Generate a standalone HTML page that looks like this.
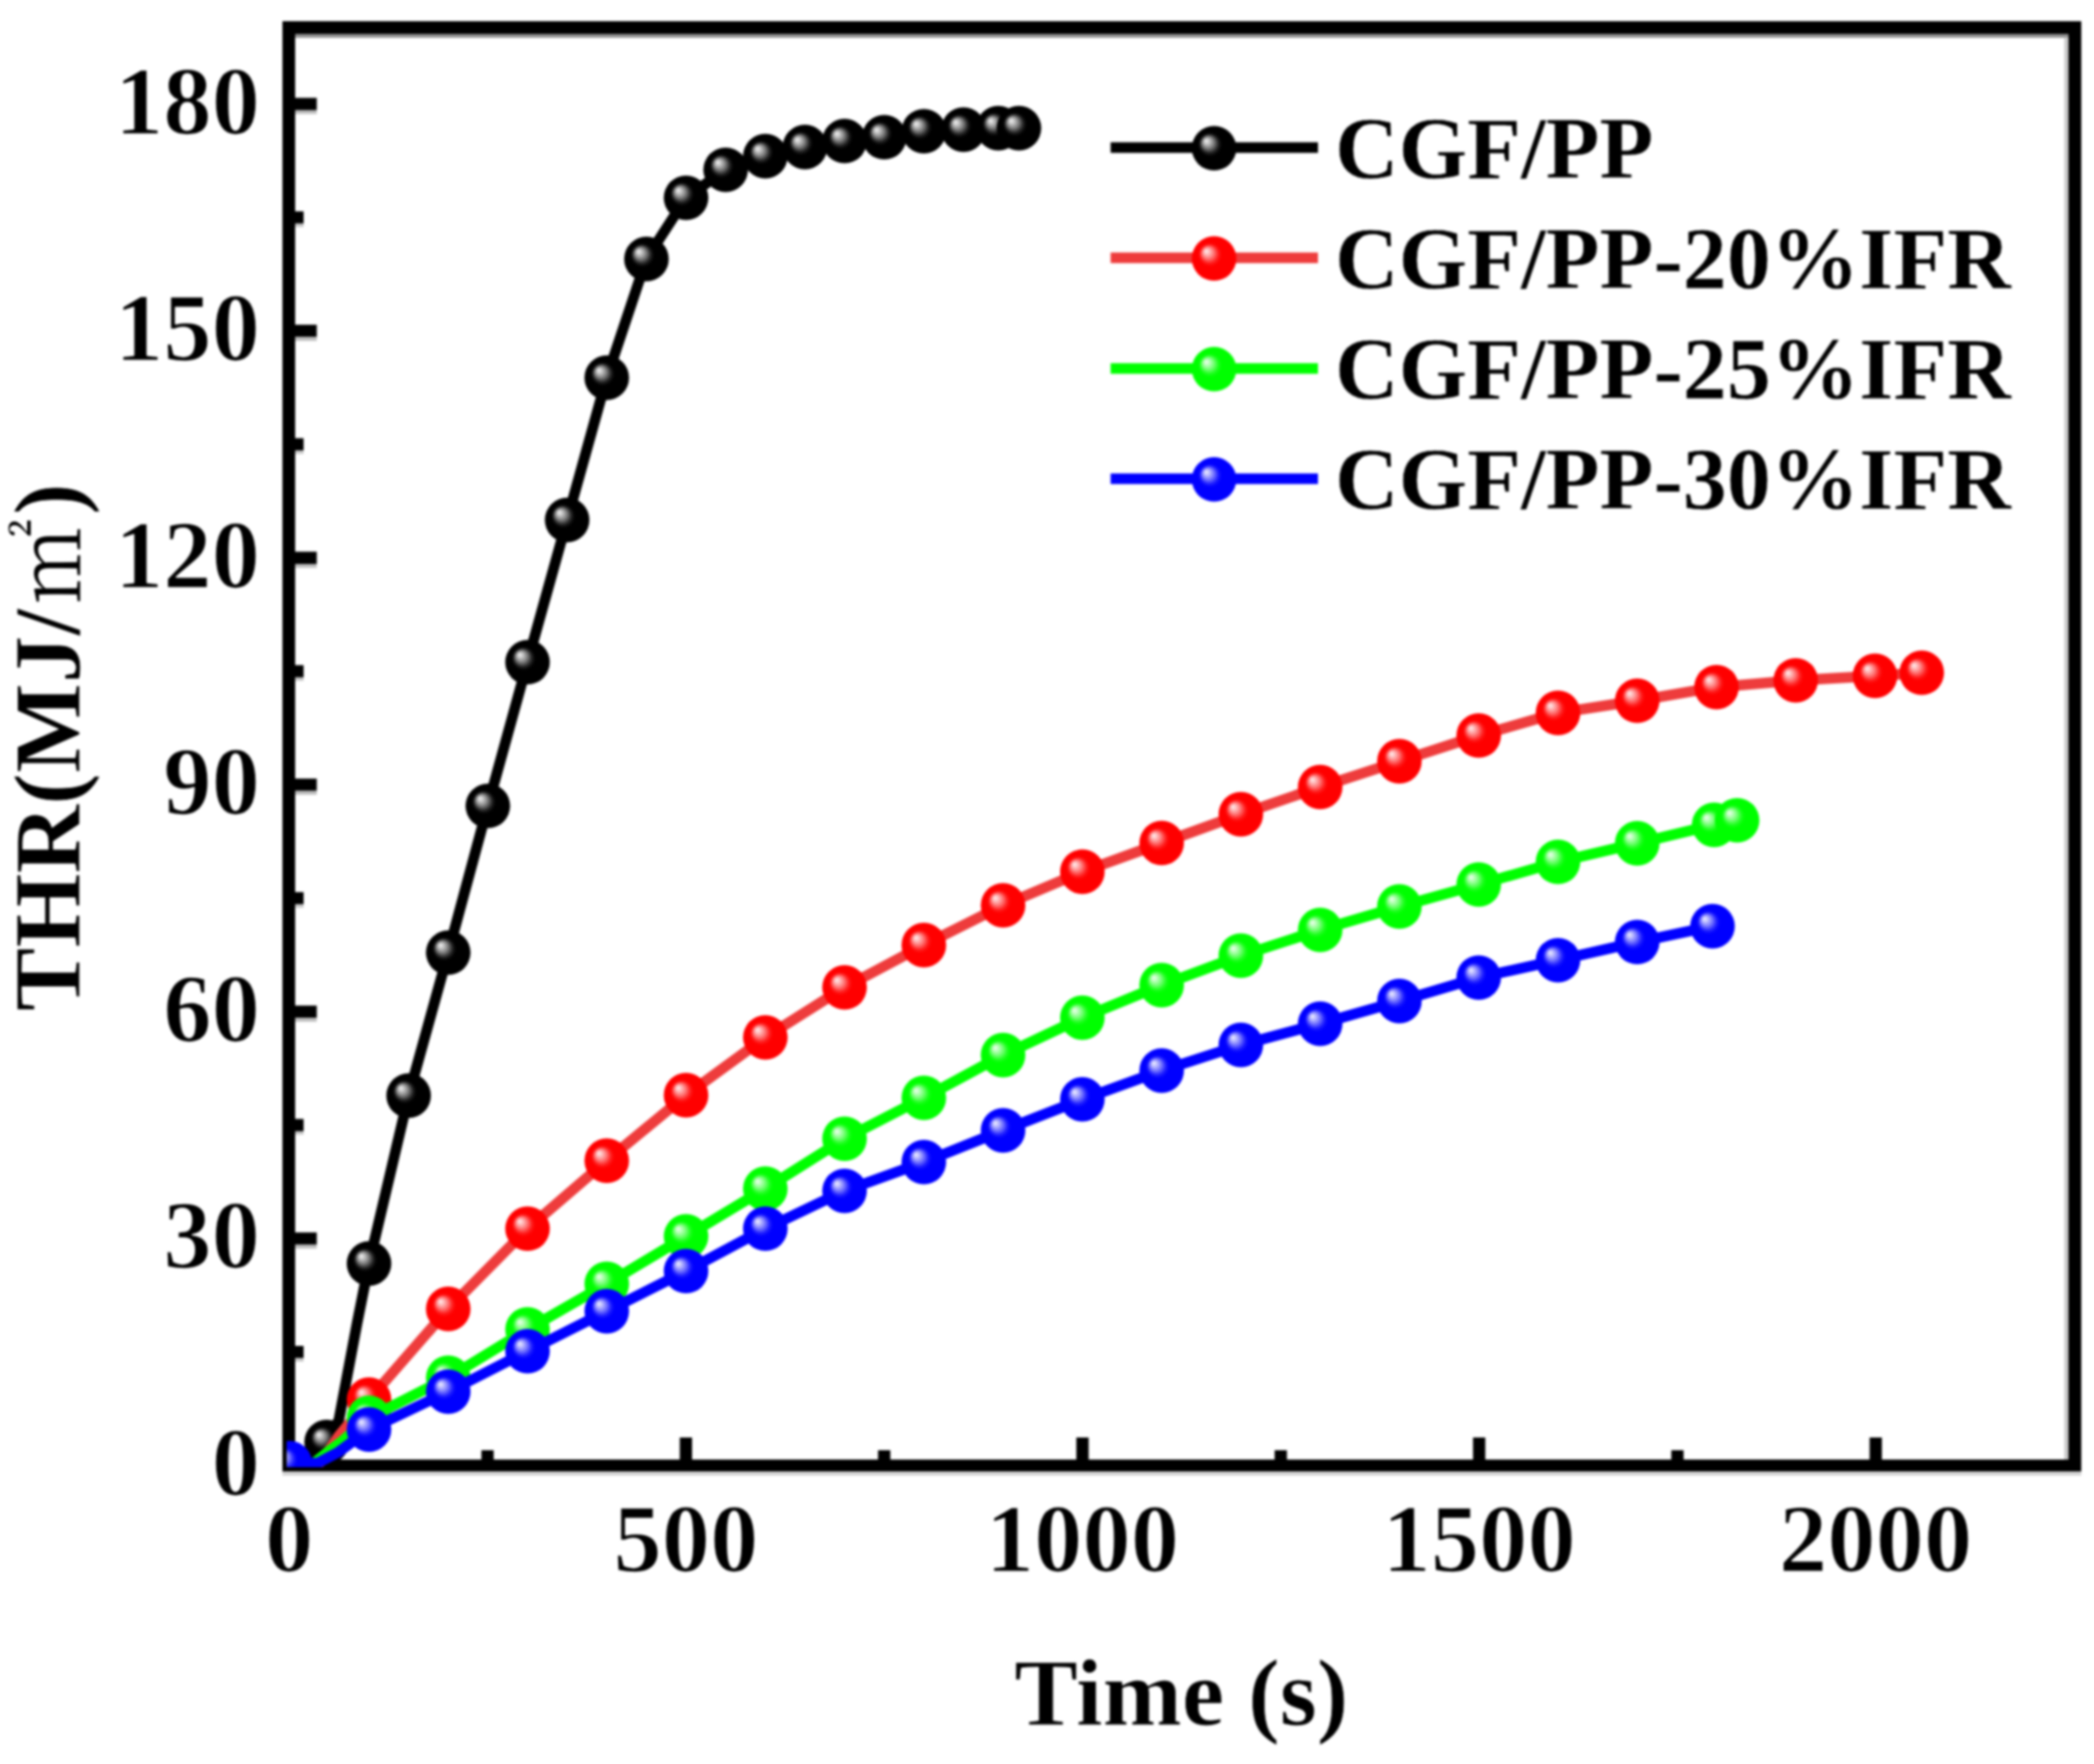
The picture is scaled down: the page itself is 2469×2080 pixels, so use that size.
<!DOCTYPE html>
<html lang="en"><head><meta charset="utf-8"><title>THR vs Time</title>
<style>html,body{margin:0;padding:0;background:#fff;}body{width:2469px;height:2080px;overflow:hidden;}svg{display:block;}text{font-family:"Liberation Serif","Noto Serif CJK SC",serif;font-weight:bold;fill:#000;stroke:#fff;stroke-width:0.8px;stroke-linejoin:round;}.tk{font-size:114px;stroke-width:1.6px;}.ti{font-size:112.3px;}.lg{font-size:104px;stroke-width:0.4px;}.sq{font-family:"Noto Serif CJK SC","Noto Sans CJK SC",serif;font-weight:300;font-size:100px;stroke:none;}</style></head><body>
<svg width="2469" height="2080" viewBox="0 0 2469 2080">
<defs>
<radialGradient id="gk" cx="0.5" cy="0.5" r="0.5" fx="0.315" fy="0.325"><stop offset="0" stop-color="#f4f4f4"/><stop offset="0.1" stop-color="#d0d0d0"/><stop offset="0.26" stop-color="#808080"/><stop offset="0.42" stop-color="#202020"/><stop offset="0.52" stop-color="#000"/><stop offset="1" stop-color="#000"/></radialGradient>
<radialGradient id="gr" cx="0.5" cy="0.5" r="0.5" fx="0.315" fy="0.325"><stop offset="0" stop-color="#fff2f2"/><stop offset="0.1" stop-color="#ffcaca"/><stop offset="0.26" stop-color="#ff7878"/><stop offset="0.42" stop-color="#ff1c1c"/><stop offset="0.52" stop-color="#ff0000"/><stop offset="1" stop-color="#ff0000"/></radialGradient>
<radialGradient id="gg" cx="0.5" cy="0.5" r="0.5" fx="0.315" fy="0.325"><stop offset="0" stop-color="#f2fff2"/><stop offset="0.1" stop-color="#caffca"/><stop offset="0.26" stop-color="#78ff78"/><stop offset="0.42" stop-color="#1cff1c"/><stop offset="0.52" stop-color="#00ff00"/><stop offset="1" stop-color="#00ff00"/></radialGradient>
<radialGradient id="gb" cx="0.5" cy="0.5" r="0.5" fx="0.315" fy="0.325"><stop offset="0" stop-color="#f2f2ff"/><stop offset="0.1" stop-color="#cacaff"/><stop offset="0.26" stop-color="#7878ff"/><stop offset="0.42" stop-color="#1c1cff"/><stop offset="0.52" stop-color="#0000ff"/><stop offset="1" stop-color="#0000ff"/></radialGradient>
<clipPath id="cp"><rect x="338" y="32" width="2111" height="1698"/></clipPath>
<filter id="soft" x="0" y="0" width="2469" height="2080" filterUnits="userSpaceOnUse" color-interpolation-filters="sRGB"><feGaussianBlur stdDeviation="1.6"/></filter>
</defs>
<rect x="0" y="0" width="2469" height="2080" fill="#fff"/>
<g filter="url(#soft)">
<rect x="0" y="0" width="2469" height="2080" fill="#fff"/>
<rect x="348" y="40" width="2091" height="4.5" fill="#8e8e8e"/>
<rect x="2434" y="44.5" width="5" height="1676.5" fill="#c9c9c9"/>
<rect x="333" y="1735" width="2121" height="5" fill="#d4d4d4"/>
<rect x="333" y="25" width="2121" height="15" fill="#000"/>
<rect x="333" y="1721" width="2121" height="14" fill="#000"/>
<rect x="333" y="25" width="15" height="1710" fill="#000"/>
<rect x="2439" y="25" width="15" height="1710" fill="#000"/>
<rect x="348" y="1587.0" width="10" height="14.5" fill="#000"/>
<rect x="348" y="1601.5" width="10" height="4" fill="#c8c8c8"/>
<rect x="348" y="1453.2" width="25.5" height="14.5" fill="#000"/>
<rect x="348" y="1467.7" width="25.5" height="4.5" fill="#bdbdbd"/>
<rect x="348" y="1319.4" width="10" height="14.5" fill="#000"/>
<rect x="348" y="1333.9" width="10" height="4" fill="#c8c8c8"/>
<rect x="348" y="1185.7" width="25.5" height="14.5" fill="#000"/>
<rect x="348" y="1200.2" width="25.5" height="4.5" fill="#bdbdbd"/>
<rect x="348" y="1051.9" width="10" height="14.5" fill="#000"/>
<rect x="348" y="1066.4" width="10" height="4" fill="#c8c8c8"/>
<rect x="348" y="918.1" width="25.5" height="14.5" fill="#000"/>
<rect x="348" y="932.6" width="25.5" height="4.5" fill="#bdbdbd"/>
<rect x="348" y="784.3" width="10" height="14.5" fill="#000"/>
<rect x="348" y="798.8" width="10" height="4" fill="#c8c8c8"/>
<rect x="348" y="650.5" width="25.5" height="14.5" fill="#000"/>
<rect x="348" y="665.0" width="25.5" height="4.5" fill="#bdbdbd"/>
<rect x="348" y="516.7" width="10" height="14.5" fill="#000"/>
<rect x="348" y="531.2" width="10" height="4" fill="#c8c8c8"/>
<rect x="348" y="382.9" width="25.5" height="14.5" fill="#000"/>
<rect x="348" y="397.4" width="25.5" height="4.5" fill="#bdbdbd"/>
<rect x="348" y="249.2" width="10" height="14.5" fill="#000"/>
<rect x="348" y="263.7" width="10" height="4" fill="#c8c8c8"/>
<rect x="348" y="115.4" width="25.5" height="14.5" fill="#000"/>
<rect x="348" y="129.9" width="25.5" height="4.5" fill="#bdbdbd"/>
<rect x="567.6" y="1710" width="14.5" height="11" fill="#000"/>
<rect x="801.5" y="1695" width="14.5" height="26" fill="#000"/>
<rect x="1035.3" y="1710" width="14.5" height="11" fill="#000"/>
<rect x="1269.1" y="1695" width="14.5" height="26" fill="#000"/>
<rect x="1502.9" y="1710" width="14.5" height="11" fill="#000"/>
<rect x="1736.8" y="1695" width="14.5" height="26" fill="#000"/>
<rect x="1970.6" y="1710" width="14.5" height="11" fill="#000"/>
<rect x="2204.4" y="1695" width="14.5" height="26" fill="#000"/>
<g clip-path="url(#cp)">
<polyline points="341.6,1728.0 367.8,1727.1 385.1,1700.4 399.5,1674.5 421.0,1560.3 435.1,1489.9 481.8,1291.9 528.5,1123.3 575.2,950.3 622.0,780.8 668.7,613.1 715.4,445.4 762.2,305.4 808.9,233.2 855.6,200.2 902.4,184.1 949.1,173.4 995.8,166.3 1042.6,161.8 1089.3,154.7 1136.0,152.9 1177.1,151.1 1201.4,151.1" fill="none" stroke="#000000" stroke-width="12.5" stroke-linejoin="round" stroke-linecap="round"/>
<circle cx="341.6" cy="1728.0" r="26.3" fill="url(#gk)"/>
<circle cx="385.1" cy="1700.4" r="26.3" fill="url(#gk)"/>
<circle cx="435.1" cy="1489.9" r="26.3" fill="url(#gk)"/>
<circle cx="481.8" cy="1291.9" r="26.3" fill="url(#gk)"/>
<circle cx="528.5" cy="1123.3" r="26.3" fill="url(#gk)"/>
<circle cx="575.2" cy="950.3" r="26.3" fill="url(#gk)"/>
<circle cx="622.0" cy="780.8" r="26.3" fill="url(#gk)"/>
<circle cx="668.7" cy="613.1" r="26.3" fill="url(#gk)"/>
<circle cx="715.4" cy="445.4" r="26.3" fill="url(#gk)"/>
<circle cx="762.2" cy="305.4" r="26.3" fill="url(#gk)"/>
<circle cx="808.9" cy="233.2" r="26.3" fill="url(#gk)"/>
<circle cx="855.6" cy="200.2" r="26.3" fill="url(#gk)"/>
<circle cx="902.4" cy="184.1" r="26.3" fill="url(#gk)"/>
<circle cx="949.1" cy="173.4" r="26.3" fill="url(#gk)"/>
<circle cx="995.8" cy="166.3" r="26.3" fill="url(#gk)"/>
<circle cx="1042.6" cy="161.8" r="26.3" fill="url(#gk)"/>
<circle cx="1089.3" cy="154.7" r="26.3" fill="url(#gk)"/>
<circle cx="1136.0" cy="152.9" r="26.3" fill="url(#gk)"/>
<circle cx="1177.1" cy="151.1" r="26.3" fill="url(#gk)"/>
<circle cx="1201.4" cy="151.1" r="26.3" fill="url(#gk)"/>
<polyline points="341.6,1728.0 373.4,1728.0 379.0,1722.6 389.6,1707.9 398.8,1694.1 435.1,1650.4 528.5,1543.4 622.0,1448.8 715.4,1368.6 808.9,1291.4 902.4,1223.2 995.8,1164.3 1089.3,1114.4 1182.7,1067.5 1276.2,1027.9 1369.7,994.0 1463.1,960.1 1556.6,928.0 1650.0,897.6 1743.5,867.3 1837.0,840.6 1930.4,826.3 2023.9,810.2 2117.3,802.2 2210.8,796.9 2265.9,793.3" fill="none" stroke="#ee3c3c" stroke-width="12.5" stroke-linejoin="round" stroke-linecap="round"/>
<circle cx="341.6" cy="1728.0" r="26.3" fill="url(#gr)"/>
<circle cx="435.1" cy="1650.4" r="26.3" fill="url(#gr)"/>
<circle cx="528.5" cy="1543.4" r="26.3" fill="url(#gr)"/>
<circle cx="622.0" cy="1448.8" r="26.3" fill="url(#gr)"/>
<circle cx="715.4" cy="1368.6" r="26.3" fill="url(#gr)"/>
<circle cx="808.9" cy="1291.4" r="26.3" fill="url(#gr)"/>
<circle cx="902.4" cy="1223.2" r="26.3" fill="url(#gr)"/>
<circle cx="995.8" cy="1164.3" r="26.3" fill="url(#gr)"/>
<circle cx="1089.3" cy="1114.4" r="26.3" fill="url(#gr)"/>
<circle cx="1182.7" cy="1067.5" r="26.3" fill="url(#gr)"/>
<circle cx="1276.2" cy="1027.9" r="26.3" fill="url(#gr)"/>
<circle cx="1369.7" cy="994.0" r="26.3" fill="url(#gr)"/>
<circle cx="1463.1" cy="960.1" r="26.3" fill="url(#gr)"/>
<circle cx="1556.6" cy="928.0" r="26.3" fill="url(#gr)"/>
<circle cx="1650.0" cy="897.6" r="26.3" fill="url(#gr)"/>
<circle cx="1743.5" cy="867.3" r="26.3" fill="url(#gr)"/>
<circle cx="1837.0" cy="840.6" r="26.3" fill="url(#gr)"/>
<circle cx="1930.4" cy="826.3" r="26.3" fill="url(#gr)"/>
<circle cx="2023.9" cy="810.2" r="26.3" fill="url(#gr)"/>
<circle cx="2117.3" cy="802.2" r="26.3" fill="url(#gr)"/>
<circle cx="2210.8" cy="796.9" r="26.3" fill="url(#gr)"/>
<circle cx="2265.9" cy="793.3" r="26.3" fill="url(#gr)"/>
<polyline points="341.6,1728.0 366.8,1728.0 387.4,1711.3 403.3,1699.5 435.1,1671.8 528.5,1624.5 622.0,1567.5 715.4,1513.9 808.9,1457.8 902.4,1401.6 995.8,1342.7 1089.3,1294.5 1182.7,1244.1 1276.2,1200.0 1369.7,1161.6 1463.1,1126.9 1556.6,1096.5 1650.0,1068.9 1743.5,1043.0 1837.0,1016.3 1930.4,994.4 2021.1,972.6 2048.2,967.2" fill="none" stroke="#00ff00" stroke-width="12.5" stroke-linejoin="round" stroke-linecap="round"/>
<circle cx="341.6" cy="1728.0" r="26.3" fill="url(#gg)"/>
<circle cx="435.1" cy="1671.8" r="26.3" fill="url(#gg)"/>
<circle cx="528.5" cy="1624.5" r="26.3" fill="url(#gg)"/>
<circle cx="622.0" cy="1567.5" r="26.3" fill="url(#gg)"/>
<circle cx="715.4" cy="1513.9" r="26.3" fill="url(#gg)"/>
<circle cx="808.9" cy="1457.8" r="26.3" fill="url(#gg)"/>
<circle cx="902.4" cy="1401.6" r="26.3" fill="url(#gg)"/>
<circle cx="995.8" cy="1342.7" r="26.3" fill="url(#gg)"/>
<circle cx="1089.3" cy="1294.5" r="26.3" fill="url(#gg)"/>
<circle cx="1182.7" cy="1244.1" r="26.3" fill="url(#gg)"/>
<circle cx="1276.2" cy="1200.0" r="26.3" fill="url(#gg)"/>
<circle cx="1369.7" cy="1161.6" r="26.3" fill="url(#gg)"/>
<circle cx="1463.1" cy="1126.9" r="26.3" fill="url(#gg)"/>
<circle cx="1556.6" cy="1096.5" r="26.3" fill="url(#gg)"/>
<circle cx="1650.0" cy="1068.9" r="26.3" fill="url(#gg)"/>
<circle cx="1743.5" cy="1043.0" r="26.3" fill="url(#gg)"/>
<circle cx="1837.0" cy="1016.3" r="26.3" fill="url(#gg)"/>
<circle cx="1930.4" cy="994.4" r="26.3" fill="url(#gg)"/>
<circle cx="2021.1" cy="972.6" r="26.3" fill="url(#gg)"/>
<circle cx="2048.2" cy="967.2" r="26.3" fill="url(#gg)"/>
<polyline points="341.6,1725.3 374.3,1725.3 399.5,1711.9 435.1,1685.6 528.5,1641.0 622.0,1593.3 715.4,1546.1 808.9,1498.8 902.4,1448.8 995.8,1404.2 1089.3,1370.3 1182.7,1332.9 1276.2,1296.3 1369.7,1262.4 1463.1,1232.1 1556.6,1207.1 1650.0,1180.4 1743.5,1152.7 1837.0,1132.2 1930.4,1110.8 2019.2,1092.1" fill="none" stroke="#0000ff" stroke-width="12.5" stroke-linejoin="round" stroke-linecap="round"/>
<circle cx="341.6" cy="1725.3" r="26.3" fill="url(#gb)"/>
<circle cx="435.1" cy="1685.6" r="26.3" fill="url(#gb)"/>
<circle cx="528.5" cy="1641.0" r="26.3" fill="url(#gb)"/>
<circle cx="622.0" cy="1593.3" r="26.3" fill="url(#gb)"/>
<circle cx="715.4" cy="1546.1" r="26.3" fill="url(#gb)"/>
<circle cx="808.9" cy="1498.8" r="26.3" fill="url(#gb)"/>
<circle cx="902.4" cy="1448.8" r="26.3" fill="url(#gb)"/>
<circle cx="995.8" cy="1404.2" r="26.3" fill="url(#gb)"/>
<circle cx="1089.3" cy="1370.3" r="26.3" fill="url(#gb)"/>
<circle cx="1182.7" cy="1332.9" r="26.3" fill="url(#gb)"/>
<circle cx="1276.2" cy="1296.3" r="26.3" fill="url(#gb)"/>
<circle cx="1369.7" cy="1262.4" r="26.3" fill="url(#gb)"/>
<circle cx="1463.1" cy="1232.1" r="26.3" fill="url(#gb)"/>
<circle cx="1556.6" cy="1207.1" r="26.3" fill="url(#gb)"/>
<circle cx="1650.0" cy="1180.4" r="26.3" fill="url(#gb)"/>
<circle cx="1743.5" cy="1152.7" r="26.3" fill="url(#gb)"/>
<circle cx="1837.0" cy="1132.2" r="26.3" fill="url(#gb)"/>
<circle cx="1930.4" cy="1110.8" r="26.3" fill="url(#gb)"/>
<circle cx="2019.2" cy="1092.1" r="26.3" fill="url(#gb)"/>
</g>
<text class="tk" x="306.5" y="1763.0" text-anchor="end">0</text>
<text class="tk" x="306.5" y="1495.4" text-anchor="end">30</text>
<text class="tk" x="306.5" y="1227.9" text-anchor="end">60</text>
<text class="tk" x="306.5" y="960.3" text-anchor="end">90</text>
<text class="tk" x="306.5" y="692.7" text-anchor="end">120</text>
<text class="tk" x="306.5" y="425.1" text-anchor="end">150</text>
<text class="tk" x="306.5" y="157.6" text-anchor="end">180</text>
<text class="tk" x="341.0" y="1852.5" text-anchor="middle">0</text>
<text class="tk" x="808.7" y="1852.5" text-anchor="middle">500</text>
<text class="tk" x="1276.3" y="1852.5" text-anchor="middle">1000</text>
<text class="tk" x="1744.0" y="1852.5" text-anchor="middle">1500</text>
<text class="tk" x="2211.6" y="1852.5" text-anchor="middle">2000</text>
<text class="ti" x="1393" y="2034" text-anchor="middle">Time (s)</text>
<text class="ti" transform="translate(94,881) rotate(-90)" text-anchor="middle">THR(MJ/<tspan class="sq" dx="6">㎡</tspan><tspan dx="5">)</tspan></text>
<line x1="1309.5" y1="174.0" x2="1554" y2="174.0" stroke="#000000" stroke-width="12.5"/>
<circle cx="1431.5" cy="174.8" r="26.3" fill="url(#gk)"/>
<text class="lg" x="1574" y="209.6">CGF/PP</text>
<line x1="1309.5" y1="304.0" x2="1554" y2="304.0" stroke="#ee3c3c" stroke-width="12.5"/>
<circle cx="1431.5" cy="304.8" r="26.3" fill="url(#gr)"/>
<text class="lg" x="1574" y="339.6">CGF/PP-20%IFR</text>
<line x1="1309.5" y1="434.5" x2="1554" y2="434.5" stroke="#00ff00" stroke-width="12.5"/>
<circle cx="1431.5" cy="435.3" r="26.3" fill="url(#gg)"/>
<text class="lg" x="1574" y="470.1">CGF/PP-25%IFR</text>
<line x1="1309.5" y1="564.5" x2="1554" y2="564.5" stroke="#0000ff" stroke-width="12.5"/>
<circle cx="1431.5" cy="565.3" r="26.3" fill="url(#gb)"/>
<text class="lg" x="1574" y="600.1">CGF/PP-30%IFR</text>
</g>
</svg></body></html>
